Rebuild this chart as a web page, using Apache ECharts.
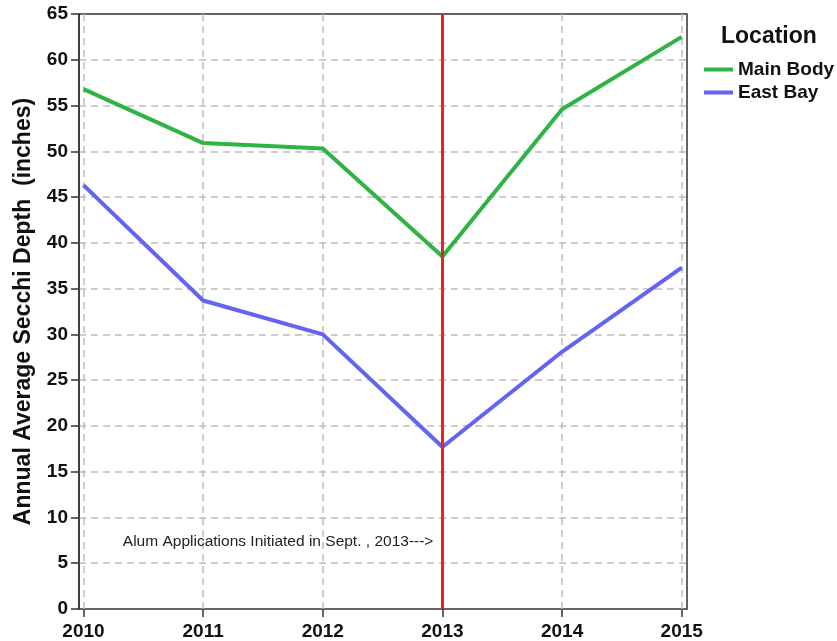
<!DOCTYPE html>
<html>
<head>
<meta charset="utf-8">
<script src="https://cdn.jsdelivr.net/npm/echarts@6/dist/echarts.min.js"></script>
<style>html,body{margin:0;padding:0;background:#fff}#c{width:837px;height:641px}</style>
</head>
<body>
<div id="c"></div>
<script>
const years = ['2010', '2011', '2012', '2013', '2014', '2015'];
const mainBody = [56.8, 50.9, 50.3, 38.5, 54.6, 62.5];
const eastBay = [46.3, 33.7, 30.0, 17.7, 28.1, 37.3];
const seriesNames = ['Main Body', 'East Bay'];
const eventYear = '2013';
const noteText = 'Alum Applications Initiated in Sept. , 2013--->';
const noteY = 7.4;
const yMin = 0, yMax = 65, yStep = 5;

const font = 'Liberation Sans, Arial, sans-serif';
const chart = echarts.init(document.getElementById('c'), null, {renderer: 'canvas'});
const dashed = {color: '#bdbdbd', type: [7, 5], width: 1.5};
chart.setOption({
  animation: false,
  backgroundColor: '#ffffff',
  textStyle: {fontFamily: font},
  title: {
    text: 'Location', left: 721, top: 25, padding: 0,
    textStyle: {fontSize: 23, fontWeight: 'bold', color: '#111', fontFamily: font}
  },
  legend: {
    orient: 'vertical', left: 704, top: 60, padding: 0,
    icon: 'rect', itemWidth: 29, itemHeight: 4, itemGap: 4,
    data: seriesNames,
    textStyle: {fontSize: 19, fontWeight: 'bold', color: '#111', fontFamily: font}
  },
  grid: [
    {left: 79, right: 150, top: 14, bottom: 32, show: true, borderColor: '#333', borderWidth: 1.5, backgroundColor: '#fff'},
    {left: 83.5, right: 155.3, top: 14, bottom: 32}
  ],
  xAxis: [
    {gridIndex: 0, type: 'value', min: 0, max: 1, show: false},
    {gridIndex: 1, type: 'category', data: years, boundaryGap: false,
     axisLine: {show: false},
     axisTick: {show: true, length: 8, lineStyle: {color: '#333', width: 1.5}, alignWithLabel: true},
     axisLabel: {fontSize: 19, fontWeight: 'bold', color: '#111', margin: 13, fontFamily: font},
     splitLine: {show: true, lineStyle: dashed}}
  ],
  yAxis: [
    {gridIndex: 0, type: 'value', min: yMin, max: yMax, interval: yStep,
     name: 'Annual Average Secchi Depth  (inches)', nameLocation: 'middle', nameGap: 44,
     nameTextStyle: {fontSize: 23, fontWeight: 'bold', color: '#111', fontFamily: font},
     axisLine: {show: true, lineStyle: {color: '#333', width: 1.5}},
     axisTick: {show: true, length: 8, lineStyle: {color: '#333', width: 1.5}},
     axisLabel: {fontSize: 19, fontWeight: 'bold', color: '#111', margin: 11, fontFamily: font},
     splitLine: {show: true, showMinLine: false, showMaxLine: false, lineStyle: dashed}},
    {gridIndex: 1, type: 'value', min: yMin, max: yMax, show: false}
  ],
  series: [
    {name: seriesNames[0], type: 'line', xAxisIndex: 1, yAxisIndex: 1, data: mainBody,
     symbol: 'none', lineStyle: {color: '#2fb344', width: 4}, itemStyle: {color: '#2fb344'}, z: 3,
     markLine: {silent: true, symbol: 'none', animation: false,
       label: {show: false},
       lineStyle: {color: '#ee2222', type: 'solid', width: 3},
       data: [{xAxis: eventYear}]}},
    {name: seriesNames[1], type: 'line', xAxisIndex: 1, yAxisIndex: 1, data: eastBay,
     symbol: 'none', lineStyle: {color: '#6464f4', width: 4}, itemStyle: {color: '#6464f4'}, z: 3,
     markPoint: {silent: true, symbol: 'circle', symbolSize: 0,
       label: {show: true, position: 'left', distance: 9, formatter: noteText,
         fontSize: 15.5, color: '#222', fontFamily: font},
       data: [{coord: [eventYear, noteY]}]}}
  ]
});
</script>
</body>
</html>
